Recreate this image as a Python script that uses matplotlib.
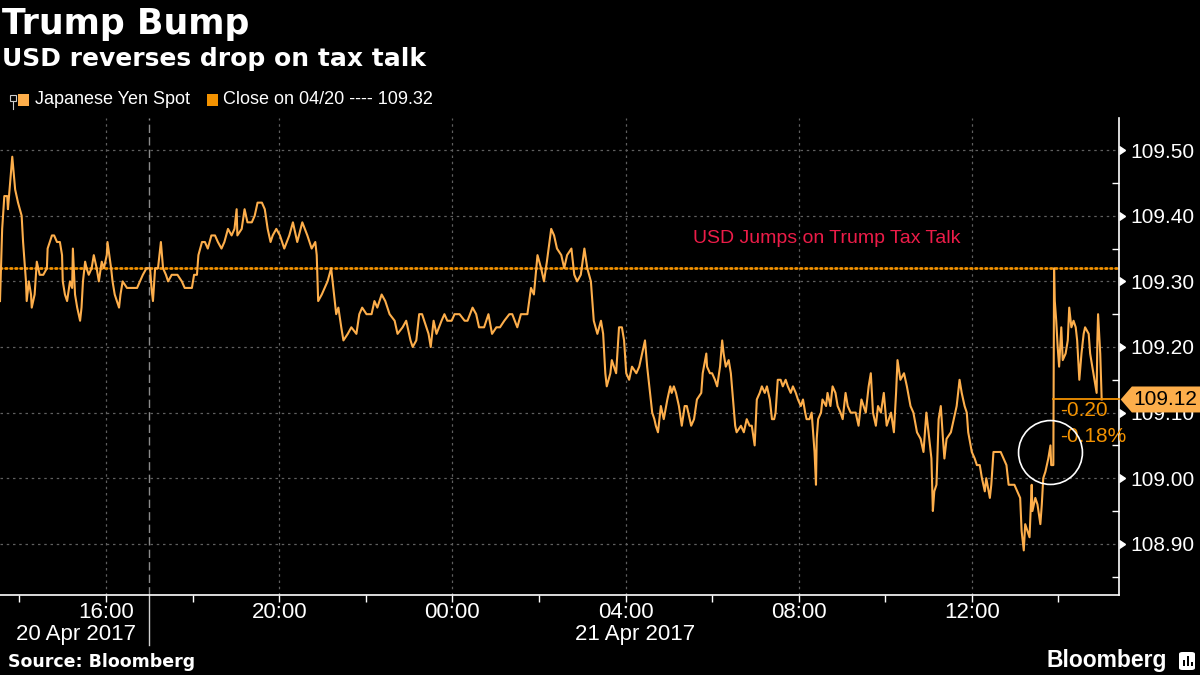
import numpy as np
import pandas as pd
import matplotlib
matplotlib.use('Agg')
import matplotlib.pyplot as plt
import matplotlib.dates as mdates
import matplotlib.transforms as mtransforms
from matplotlib.patches import Polygon, Rectangle, FancyBboxPatch
from matplotlib.lines import Line2D
from matplotlib.ticker import MultipleLocator

# USD/JPY spot, minutes after 13:30 on 20 Apr 2017
minutes = [3, 6, 9, 13, 14, 20, 24, 28, 33, 35, 39, 40, 43, 46, 47, 51, 54, 58, 63, 68,
           69, 75, 78, 82, 86, 89, 90, 93, 96, 100, 103, 104, 107, 110, 114, 116, 118, 121, 123, 126,
           130, 133, 137, 140, 144, 147, 151, 152, 157, 159, 162, 165, 168, 170, 173, 179, 183, 187, 193, 197,
           201, 206, 211, 213, 215, 218, 222, 226, 229, 233, 236, 241, 245, 249, 255, 259, 263, 269, 272, 276,
           278, 283, 287, 291, 296, 301, 305, 310, 314, 319, 324, 328, 331, 332, 338, 342, 346, 352, 356, 360,
           366, 370, 374, 378, 381, 386, 391, 397, 404, 409, 415, 422, 429, 435, 440, 442, 444, 449, 453, 457,
           462, 465, 469, 472, 476, 479, 485, 490, 497, 501, 505, 511, 518, 522, 526, 532, 537, 543, 550, 554,
           561, 566, 572, 575, 580, 584, 588, 594, 597, 600, 604, 608, 615, 619, 623, 629, 633, 640, 647, 651,
           658, 663, 667, 674, 680, 685, 691, 696, 702, 709, 713, 720, 725, 730, 734, 739, 743, 748, 753, 757,
           761, 767, 771, 775, 781, 785, 789, 795, 799, 803, 808, 813, 817, 822, 824, 826, 831, 836, 839, 842,
           844, 849, 851, 857, 861, 865, 868, 871, 875, 879, 885, 889, 893, 897, 900, 904, 907, 910, 912, 915,
           919, 923, 928, 932, 934, 937, 940, 944, 948, 952, 955, 961, 965, 969, 975, 977, 982, 983, 987, 990,
           994, 997, 1001, 1004, 1006, 1009, 1013, 1016, 1019, 1022, 1024, 1030, 1034, 1038, 1042, 1045, 1049, 1052, 1056, 1059,
           1063, 1066, 1070, 1073, 1076, 1078, 1081, 1085, 1088, 1092, 1095, 1099, 1102, 1106, 1109, 1113, 1116, 1119, 1121, 1125,
           1128, 1130, 1132, 1134, 1135, 1137, 1141, 1143, 1148, 1150, 1154, 1157, 1161, 1164, 1168, 1171, 1175, 1178, 1182, 1185,
           1189, 1193, 1197, 1203, 1207, 1210, 1213, 1217, 1220, 1224, 1228, 1232, 1238, 1242, 1245, 1247, 1251, 1256, 1260, 1265,
           1269, 1274, 1279, 1283, 1287, 1291, 1294, 1296, 1298, 1301, 1304, 1307, 1310, 1312, 1315, 1321, 1325, 1329, 1333, 1336,
           1340, 1343, 1345, 1350, 1354, 1357, 1361, 1364, 1368, 1370, 1375, 1377, 1380, 1384, 1390, 1394, 1398, 1401, 1405, 1409,
           1413, 1417, 1419, 1422, 1424, 1427, 1430, 1433, 1434, 1438, 1441, 1445, 1447, 1449, 1452, 1456, 1459, 1460, 1463, 1464,
           1465, 1467, 1469, 1471, 1474, 1476, 1480, 1483, 1485, 1488, 1491, 1494, 1496, 1499, 1502, 1505, 1507, 1512, 1514, 1517,
           1520, 1523, 1524, 1525, 1528, 1530]

yen = [109.27, 109.38, 109.43, 109.43, 109.41, 109.49, 109.44, 109.42, 109.40, 109.36, 109.30, 109.27, 109.30, 109.28, 109.26, 109.28, 109.33, 109.31, 109.31, 109.32,
       109.35, 109.37, 109.37, 109.36, 109.36, 109.34, 109.30, 109.28, 109.27, 109.30, 109.29, 109.35, 109.28, 109.26, 109.24, 109.26, 109.30, 109.33, 109.32, 109.31,
       109.32, 109.34, 109.32, 109.30, 109.33, 109.32, 109.34, 109.36, 109.32, 109.30, 109.28, 109.27, 109.26, 109.28, 109.30, 109.29, 109.29, 109.29, 109.29, 109.30,
       109.31, 109.32, 109.32, 109.29, 109.27, 109.32, 109.32, 109.36, 109.32, 109.31, 109.30, 109.31, 109.31, 109.31, 109.30, 109.29, 109.29, 109.29, 109.31, 109.31,
       109.34, 109.36, 109.36, 109.35, 109.37, 109.37, 109.36, 109.35, 109.36, 109.38, 109.37, 109.38, 109.41, 109.37, 109.38, 109.41, 109.39, 109.39, 109.40, 109.42,
       109.42, 109.41, 109.38, 109.36, 109.37, 109.38, 109.37, 109.35, 109.37, 109.39, 109.36, 109.39, 109.37, 109.35, 109.36, 109.34, 109.27, 109.28, 109.29, 109.30,
       109.32, 109.29, 109.25, 109.26, 109.23, 109.21, 109.22, 109.23, 109.22, 109.25, 109.26, 109.25, 109.25, 109.27, 109.26, 109.28, 109.27, 109.25, 109.24, 109.22,
       109.23, 109.24, 109.21, 109.20, 109.21, 109.25, 109.25, 109.23, 109.22, 109.20, 109.24, 109.22, 109.24, 109.25, 109.24, 109.24, 109.25, 109.25, 109.24, 109.24,
       109.26, 109.25, 109.23, 109.23, 109.25, 109.22, 109.23, 109.23, 109.24, 109.25, 109.25, 109.23, 109.25, 109.25, 109.25, 109.29, 109.28, 109.34, 109.32, 109.30,
       109.33, 109.38, 109.37, 109.35, 109.34, 109.32, 109.34, 109.35, 109.31, 109.30, 109.31, 109.35, 109.32, 109.30, 109.27, 109.24, 109.22, 109.24, 109.22, 109.16,
       109.14, 109.16, 109.18, 109.16, 109.23, 109.23, 109.21, 109.16, 109.15, 109.17, 109.16, 109.17, 109.19, 109.21, 109.17, 109.13, 109.10, 109.09, 109.08, 109.07,
       109.11, 109.09, 109.12, 109.14, 109.13, 109.14, 109.13, 109.11, 109.08, 109.11, 109.11, 109.08, 109.09, 109.12, 109.13, 109.16, 109.19, 109.17, 109.16, 109.16,
       109.15, 109.14, 109.17, 109.21, 109.19, 109.17, 109.18, 109.16, 109.12, 109.08, 109.07, 109.08, 109.07, 109.09, 109.08, 109.08, 109.05, 109.12, 109.13, 109.14,
       109.13, 109.14, 109.12, 109.09, 109.09, 109.10, 109.15, 109.15, 109.14, 109.15, 109.14, 109.13, 109.14, 109.13, 109.12, 109.11, 109.12, 109.10, 109.09, 109.09,
       109.10, 109.07, 109.04, 108.99, 109.06, 109.09, 109.10, 109.12, 109.11, 109.13, 109.11, 109.14, 109.13, 109.11, 109.10, 109.09, 109.13, 109.11, 109.10, 109.10,
       109.10, 109.08, 109.12, 109.10, 109.14, 109.16, 109.10, 109.08, 109.11, 109.10, 109.13, 109.08, 109.10, 109.07, 109.13, 109.18, 109.15, 109.16, 109.14, 109.11,
       109.10, 109.07, 109.06, 109.04, 109.10, 109.06, 109.03, 108.95, 108.98, 108.99, 109.09, 109.11, 109.06, 109.03, 109.06, 109.07, 109.09, 109.11, 109.15, 109.13,
       109.11, 109.10, 109.07, 109.04, 109.03, 109.02, 109.02, 109.00, 108.98, 109.00, 108.97, 108.99, 109.04, 109.04, 109.04, 109.03, 109.02, 108.99, 108.99, 108.99,
       108.98, 108.97, 108.92, 108.89, 108.93, 108.92, 108.91, 108.99, 108.95, 108.97, 108.96, 108.93, 108.96, 109.00, 109.01, 109.03, 109.05, 109.02, 109.02, 109.32,
       109.27, 109.24, 109.20, 109.17, 109.23, 109.18, 109.19, 109.21, 109.26, 109.23, 109.24, 109.23, 109.21, 109.15, 109.19, 109.22, 109.23, 109.22, 109.19, 109.17,
       109.15, 109.13, 109.21, 109.25, 109.19, 109.12]

prev_close = 109.32
yticks = [108.90, 109.00, 109.10, 109.20, 109.30, 109.40, 109.50]
series_name = 'Japanese Yen Spot'
close_name = 'Close on 04/20'
note = 'USD Jumps on Trump Tax Talk'

LINE = '#fdae4b'
DARK_OR = '#f39200'
REG = ['Liberation Sans', 'DejaVu Sans']

times = pd.Timestamp('2017-04-20 13:30') + pd.to_timedelta(minutes, unit='min')
x_start = pd.Timestamp('2017-04-20 13:33')
x_end = pd.Timestamp('2017-04-21 15:24')
day_break = pd.Timestamp('2017-04-20 17:00')

fig = plt.figure(figsize=(12, 6.75), dpi=100, facecolor='black')
ax = fig.add_axes([0.0, 0.1185, 0.9325, 0.7067], facecolor='black')

ax.plot(times, yen, color=LINE, lw=1.5, zorder=3)
ax.axhline(prev_close, color=DARK_OR, lw=2, ls=(0, (0.6, 1.2)), dash_capstyle='round', zorder=2)

ax.set_xlim(x_start, x_end)
ax.set_ylim(108.822, 109.549)

for s in ['left', 'top']:
    ax.spines[s].set_visible(False)
for s in ['right', 'bottom']:
    ax.spines[s].set_color('white')
    ax.spines[s].set_linewidth(1.2)

ax.xaxis.set_major_locator(mdates.HourLocator(byhour=[0, 4, 8, 12, 16, 20]))
ax.xaxis.set_minor_locator(mdates.HourLocator(byhour=[2, 6, 10, 14, 18, 22]))
ax.xaxis.set_major_formatter(mdates.DateFormatter('%H:%M'))
ax.tick_params(axis='x', which='both', colors='white', direction='out', length=5, width=1, pad=0)
ax.tick_params(axis='x', labelsize=16, labelcolor='white')
for lab in ax.get_xticklabels():
    lab.set_fontfamily(REG)

ax.yaxis.tick_right()
ax.set_yticks(yticks)
ax.yaxis.set_major_formatter(matplotlib.ticker.FormatStrFormatter('%.2f'))
ax.yaxis.set_minor_locator(MultipleLocator(0.05))
ax.tick_params(axis='y', which='major', length=0, pad=8, labelsize=15, labelcolor='white')
ax.tick_params(axis='y', which='minor', direction='in', length=5, width=1, colors='white')
for lab in ax.get_yticklabels():
    lab.set_fontfamily(REG)

# caret-shaped major ticks on the right spine
ytrans = mtransforms.blended_transform_factory(ax.transAxes, ax.transData)
ax.plot([1.0] * len(yticks), yticks, transform=ytrans, ls='none', marker=9,
        ms=6, color='white', clip_on=False, zorder=5)

ax.grid(True, which='major', color='#5f5f5f', ls=(0, (2, 3)), lw=0.9)

# day separator
ax.axvline(day_break, color='#8c8c8c', lw=1, ls=(0, (6, 3)), zorder=1)
xtrans = mtransforms.blended_transform_factory(ax.transData, ax.transAxes)
ax.plot([day_break, day_break], [0, -0.105], transform=xtrans, color='#d0d0d0', lw=1, clip_on=False)
ax.text(pd.Timestamp('2017-04-20 16:42'), -0.082, '20 Apr 2017', transform=xtrans, ha='right', va='center',
        color='white', fontsize=16, family=REG)
ax.text(pd.Timestamp('2017-04-21 04:13'), -0.082, '21 Apr 2017', transform=xtrans, ha='center', va='center',
        color='white', fontsize=16, family=REG)

# annotation text
ax.text(pd.Timestamp('2017-04-21 05:34'), 109.366, note, color='#ec1c48', fontsize=14,
        family=REG, ha='left', va='center')

# last price marker and change vs previous close
last = yen[-1]
jump = int(np.argmax(np.diff(yen)))
t_jump = times[jump]
ax.plot([t_jump, x_end], [last, last], color=DARK_OR, lw=1.3, zorder=4, clip_on=False)
chg = last - prev_close
pct = chg / prev_close * 100
ax.text(t_jump + pd.Timedelta(minutes=9), last - 0.017, f'{chg:.2f}', color=DARK_OR, fontsize=15,
        family=REG, ha='left', va='center')
ax.text(t_jump + pd.Timedelta(minutes=9), last - 0.057, f'{pct:.2f}%', color=DARK_OR, fontsize=15,
        family=REG, ha='left', va='center')
ax.plot([t_jump - pd.Timedelta(minutes=4)], [109.04], marker='o', ms=46, mfc='none', mec='white',
        mew=1.2, zorder=6)

tag = Polygon([(1.0015, last), (1.0115, last + 0.0198), (1.08, last + 0.0198),
               (1.08, last - 0.0198), (1.0115, last - 0.0198)], closed=True,
              transform=ytrans, facecolor=LINE, edgecolor='none', clip_on=False, zorder=7)
ax.add_patch(tag)
ax.text(1.0125, last, f'{last:.2f}', transform=ytrans, color='black', fontsize=15,
        family=REG, ha='left', va='center', zorder=8, clip_on=False)

# titles
fig.text(0.002, 1 - 24 / 675, 'Trump Bump', color='white', fontsize=25, fontweight='bold',
         family='DejaVu Sans', va='center', ha='left')
fig.text(0.002, 1 - 59 / 675, 'USD reverses drop on tax talk', color='white', fontsize=18,
         fontweight='bold', family='DejaVu Sans', va='center', ha='left')

# legend row
ly = 1 - 100 / 675
fig.add_artist(Rectangle((10 / 1200, 1 - 101 / 675), 6 / 1200, 6 / 675, transform=fig.transFigure,
                         facecolor='none', edgecolor='#cccccc', lw=0.8))
fig.add_artist(Line2D([13 / 1200, 13 / 1200], [1 - 101 / 675, 1 - 109 / 675], transform=fig.transFigure,
                      color='#cccccc', lw=0.8))
fig.add_artist(Rectangle((18 / 1200, 1 - 106 / 675), 11 / 1200, 12 / 675, transform=fig.transFigure,
                         facecolor=LINE, edgecolor='none'))
fig.text(35 / 1200, ly, series_name, color='white', fontsize=13, family=REG, va='center')
fig.add_artist(Rectangle((207 / 1200, 1 - 106 / 675), 11 / 1200, 12 / 675, transform=fig.transFigure,
                         facecolor=DARK_OR, edgecolor='none'))
fig.text(223 / 1200, ly, f'{close_name} ---- {prev_close:.2f}', color='white', fontsize=13,
         family=REG, va='center')

# footer
fig.text(8 / 1200, 1 - 662 / 675, 'Source: Bloomberg', color='white', fontsize=12.5,
         fontweight='bold', family='DejaVu Sans', va='center')
fig.text(1167 / 1200, 1 - 661 / 675, 'Bloomberg', color='white', fontsize=16.5,
         fontweight='bold', family=REG, va='center', ha='right')
fig.add_artist(FancyBboxPatch((1179 / 1200, 1 - 670 / 675), 16 / 1200, 18 / 675,
                              boxstyle='round,pad=0,rounding_size=0.003', transform=fig.transFigure,
                              facecolor='white', edgecolor='none'))
for bx, bh in [(1183, 6), (1187, 10), (1191, 4)]:
    fig.add_artist(Rectangle((bx / 1200, 1 - 666 / 675), 2 / 1200, bh / 675, transform=fig.transFigure,
                             facecolor='black', edgecolor='none'))

fig.savefig('out.png', dpi=100, facecolor='black')
